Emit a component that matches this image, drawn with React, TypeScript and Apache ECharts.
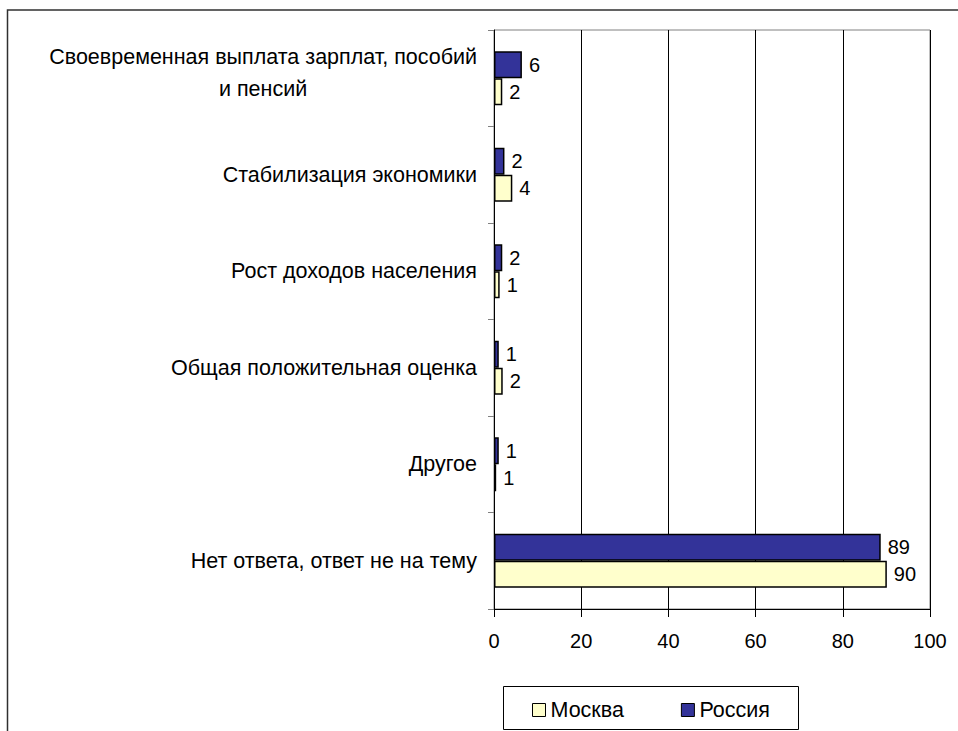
import React, { useEffect, useRef } from "react";
import * as echarts from "echarts";

const categories = [
  "Своевременная выплата зарплат, пособий\nи пенсий",
  "Стабилизация экономики",
  "Рост доходов населения",
  "Общая положительная оценка",
  "Другое",
  "Нет ответа, ответ не на тему",
];
const russia = [6.4, 2.4, 1.9, 1.1, 1.1, 88.7];
const moscow = [1.9, 4.2, 1.3, 2.0, 0.5, 90.1];
const xTicks = { min: 0, max: 100, interval: 20 };

const FONT = "'Liberation Sans', Arial, sans-serif";
const CAT_FS = 21.5;

export default function App() {
  const ref = useRef<HTMLDivElement>(null);
  useEffect(() => {
    if (!ref.current) return;
    const chart = echarts.init(ref.current, null, { renderer: "svg" });
    const label = {
      show: true,
      position: "right",
      distance: 7,
      fontSize: 20,
      color: "#000",
      fontFamily: FONT,
      formatter: (p: any) => String(Math.round(p.value)),
    };
    chart.setOption({
      animation: false,
      backgroundColor: "#fff",
      textStyle: { fontFamily: FONT },
      grid: {
        left: 494,
        right: 28,
        top: 30,
        bottom: 122,
        show: true,
        borderColor: "#808080",
        borderWidth: 1,
        backgroundColor: "transparent",
      },
      legend: {
        data: ["Москва", "Россия"],
        left: 532,
        top: 699,
        itemWidth: 13,
        itemHeight: 13,
        itemGap: 57,
        icon: "rect",
        padding: 0,
        textStyle: { fontSize: CAT_FS, color: "#000", fontFamily: FONT },
        itemStyle: { borderColor: "#000", borderWidth: 1 },
      },
      xAxis: {
        type: "value",
        min: xTicks.min,
        max: xTicks.max,
        interval: xTicks.interval,
        axisLine: { show: true, lineStyle: { color: "#000", width: 1 } },
        axisTick: { show: true, length: 8, lineStyle: { color: "#000" } },
        splitLine: { show: true, lineStyle: { color: "#000", width: 1 } },
        axisLabel: { fontSize: 20, color: "#000", margin: 22, fontFamily: FONT },
      },
      yAxis: {
        type: "category",
        inverse: true,
        data: categories,
        axisLine: { show: true, lineStyle: { color: "#000", width: 1 } },
        axisTick: { show: true, length: 6, lineStyle: { color: "#808080" } },
        axisLabel: {
          fontSize: CAT_FS,
          color: "#000",
          margin: 17,
          fontFamily: FONT,
          formatter: (v: string) => {
            const lines = v.split("\n");
            if (lines.length === 1) return "{c|" + v + "}";
            return lines.map((s) => "{c|" + s + "}").join("\n") + "\n{s| }";
          },
          rich: {
            c: { align: "center", fontSize: CAT_FS, lineHeight: 32, fontFamily: FONT, color: "#000" },
            s: { fontSize: 1, lineHeight: 10, height: 10 },
          },
        },
      },
      graphic: [
        {
          type: "rect",
          z: -10,
          silent: true,
          shape: { x: 7.5, y: 10, width: 1400, height: 1400 },
          style: { fill: "none", stroke: "#303030", lineWidth: 1.5 },
        },
        {
          type: "rect",
          z: -10,
          silent: true,
          shape: { x: 503.5, y: 686.5, width: 295, height: 43 },
          style: { fill: "none", stroke: "#000", lineWidth: 1 },
        },
      ],
      series: [
        {
          name: "Россия",
          type: "bar",
          data: russia,
          barWidth: 27,
          barGap: "0%",
          itemStyle: { color: "#333399", borderColor: "#000", borderWidth: 1.5 },
          label,
        },
        {
          name: "Москва",
          type: "bar",
          data: moscow,
          barWidth: 27,
          barGap: "0%",
          itemStyle: { color: "#FFFFCC", borderColor: "#000", borderWidth: 1.5 },
          label,
        },
      ],
    });
    return () => chart.dispose();
  }, []);
  return (
    <div
      ref={ref}
      style={{ position: "fixed", left: 0, top: 0, width: 958, height: 731 }}
    />
  );
}
